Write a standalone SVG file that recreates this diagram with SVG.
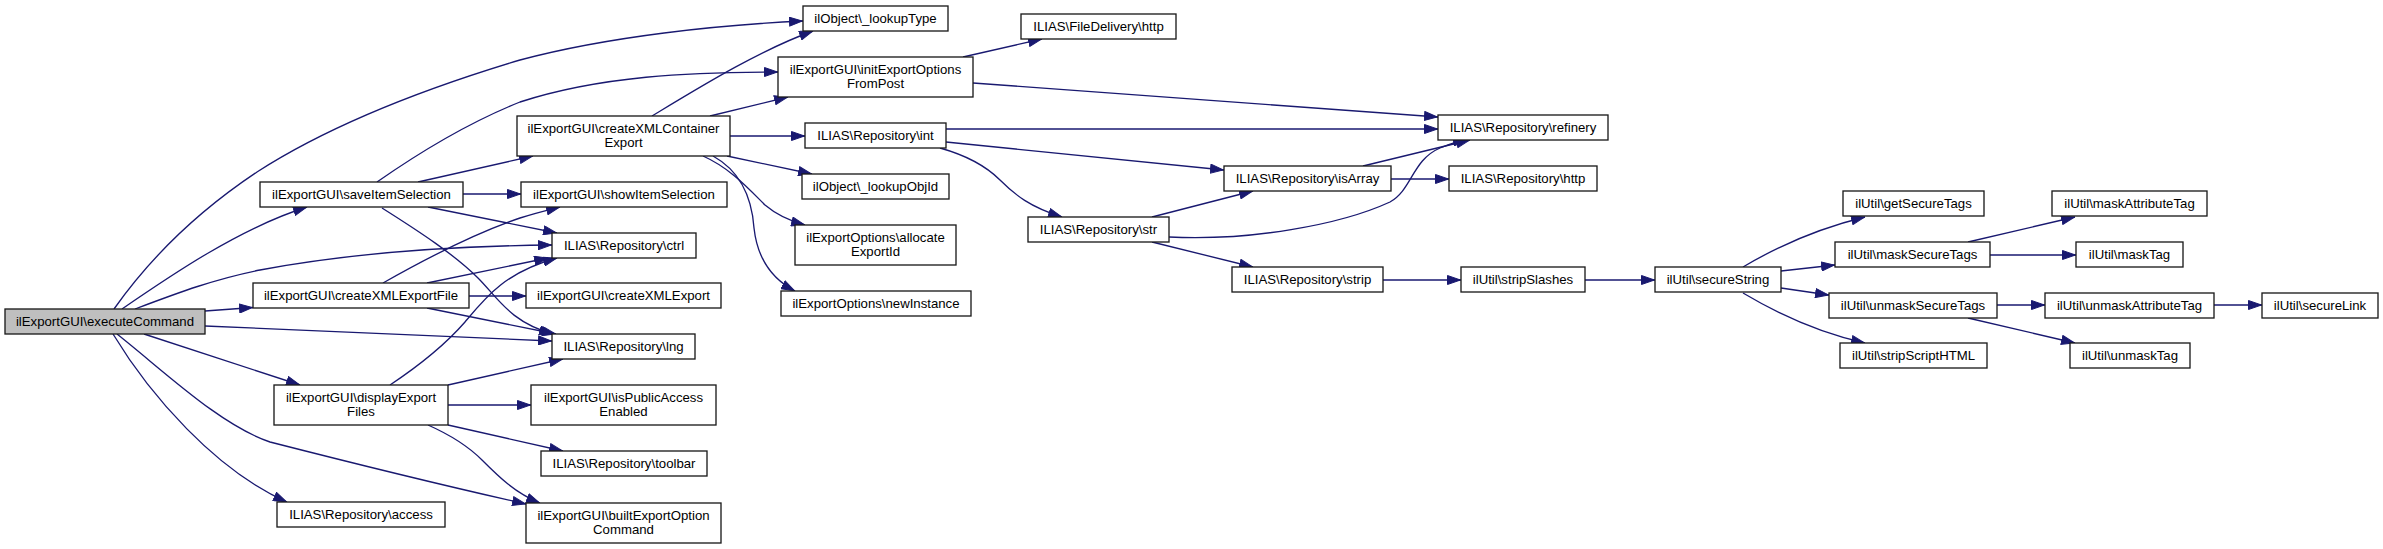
<svg xmlns="http://www.w3.org/2000/svg" width="2383" height="549" viewBox="0 0 2383 549">
<style>
.n rect{fill:#ffffff;stroke:#1a1a1a;stroke-width:1.33}
.root rect{fill:#bfbfbf}
.n text{font-family:"Liberation Sans",Arial,Helvetica,sans-serif;font-size:13.2px;fill:#000000;text-anchor:middle}
.e path{fill:none;stroke:#191970;stroke-width:1.33;marker-end:url(#ah)}
</style>
<defs>
<marker id="ah" viewBox="0 0 14 10" refX="14" refY="5" markerWidth="14" markerHeight="10" markerUnits="userSpaceOnUse" orient="auto">
<path d="M0.5,0.5 L13.5,5 L0.5,9.5 z" fill="#191970" stroke="#191970" stroke-width="1"/>
</marker>
</defs>
<rect width="2383" height="549" fill="#ffffff"/>
<g id="edges" class="e">
<path d="M114,309 C150,258 200,210 257,172 C330,125 430,87 520,60 C610,36 720,25 803,21"/>
<path d="M122,309 C170,276 240,228 307,207"/>
<path d="M135,309 C180,292 215,279 260,270 C340,255 440,246 552,245"/>
<path d="M205,311 L253,307.5"/>
<path d="M205,326 L552,341"/>
<path d="M144,334 L300,385"/>
<path d="M117,334 C165,372 220,425 270,442 C360,465 450,487 526,504"/>
<path d="M113,334 C150,395 215,470 287,502"/>
<path d="M377,182 C420,152 470,122 520,102 C600,76 690,72 778,72"/>
<path d="M418,182 L533,156"/>
<path d="M463,194 L521,194"/>
<path d="M428,207 L557,233"/>
<path d="M382,208 C420,232 455,255 478,278 C498,298 510,322 553,334"/>
<path d="M383,283 C420,262 470,235 520,218 C535,213 548,210 560,207"/>
<path d="M427,283 L548,258"/>
<path d="M390,385 C420,365 445,345 465,322 C485,298 505,272 557,258"/>
<path d="M469,296 L526,296"/>
<path d="M427,308 L556,334"/>
<path d="M448,385 L563,359"/>
<path d="M448,405 L531,405"/>
<path d="M448,425 L563,451"/>
<path d="M428,425 C455,437 470,448 482,460 C498,476 515,493 540,503"/>
<path d="M652,116 C700,87 760,50 813,31"/>
<path d="M710,116 L788,97"/>
<path d="M730,136 L805,136"/>
<path d="M727,156 L812,174"/>
<path d="M703,156 C730,168 748,188 765,205 C778,216 790,221 805,225"/>
<path d="M713,156 C742,172 752,200 754,228 C757,255 770,278 795,291"/>
<path d="M963,57 L1042,39"/>
<path d="M973,83 L1438,117"/>
<path d="M946,129 L1438,129"/>
<path d="M946,142 L1224,170"/>
<path d="M940,148 C965,155 985,165 1000,180 C1015,195 1030,207 1062,217"/>
<path d="M1363,166 L1470,140"/>
<path d="M1391,179 L1449,179"/>
<path d="M1152,217 L1253,191"/>
<path d="M1169,237 C1250,241 1340,225 1390,202 C1412,190 1412,160 1440,148 C1450,144 1458,141 1467,140"/>
<path d="M1152,242 L1253,267"/>
<path d="M1383,280 L1461,280"/>
<path d="M1585,280 L1655,280"/>
<path d="M1743,267 C1780,245 1820,228 1865,217"/>
<path d="M1781,271 L1835,265"/>
<path d="M1781,288 L1829,295"/>
<path d="M1743,293 C1780,315 1820,333 1865,343"/>
<path d="M1968,242 L2075,217"/>
<path d="M1990,255 L2076,255"/>
<path d="M1997,305 L2045,305"/>
<path d="M1968,318 L2075,343"/>
<path d="M2214,305 L2262,305"/>
</g>
<g id="n1" class="n root"><rect x="5" y="309" width="200" height="25"/><text x="105" y="326">ilExportGUI\executeCommand</text></g>
<g id="n2" class="n"><rect x="260" y="182" width="203" height="25"/><text x="361.5" y="199">ilExportGUI\saveItemSelection</text></g>
<g id="n3" class="n"><rect x="253" y="283" width="216" height="25"/><text x="361" y="300">ilExportGUI\createXMLExportFile</text></g>
<g id="n4" class="n"><rect x="274" y="385" width="174" height="40"/><text x="361" y="401.5">ilExportGUI\displayExport</text><text x="361" y="416">Files</text></g>
<g id="n5" class="n"><rect x="277" y="502" width="168" height="25"/><text x="361" y="519">ILIAS\Repository\access</text></g>
<g id="n6" class="n"><rect x="803" y="6" width="145" height="25"/><text x="875.5" y="23">ilObject\_lookupType</text></g>
<g id="n7" class="n"><rect x="778" y="57" width="195" height="40"/><text x="875.5" y="73.5">ilExportGUI\initExportOptions</text><text x="875.5" y="88">FromPost</text></g>
<g id="n8" class="n"><rect x="517" y="116" width="213" height="40"/><text x="623.5" y="132.5">ilExportGUI\createXMLContainer</text><text x="623.5" y="147">Export</text></g>
<g id="n9" class="n"><rect x="521" y="182" width="206" height="25"/><text x="624" y="199">ilExportGUI\showItemSelection</text></g>
<g id="n10" class="n"><rect x="552" y="233" width="144" height="25"/><text x="624" y="250">ILIAS\Repository\ctrl</text></g>
<g id="n11" class="n"><rect x="526" y="283" width="195" height="25"/><text x="623.5" y="300">ilExportGUI\createXMLExport</text></g>
<g id="n12" class="n"><rect x="552" y="334" width="143" height="25"/><text x="623.5" y="351">ILIAS\Repository\lng</text></g>
<g id="n13" class="n"><rect x="531" y="385" width="185" height="40"/><text x="623.5" y="401.5">ilExportGUI\isPublicAccess</text><text x="623.5" y="416">Enabled</text></g>
<g id="n14" class="n"><rect x="541" y="451" width="166" height="25"/><text x="624" y="468">ILIAS\Repository\toolbar</text></g>
<g id="n15" class="n"><rect x="526" y="503" width="195" height="40"/><text x="623.5" y="519.5">ilExportGUI\builtExportOption</text><text x="623.5" y="534">Command</text></g>
<g id="n16" class="n"><rect x="805" y="123" width="141" height="25"/><text x="875.5" y="140">ILIAS\Repository\int</text></g>
<g id="n17" class="n"><rect x="802" y="174" width="147" height="25"/><text x="875.5" y="191">ilObject\_lookupObjId</text></g>
<g id="n18" class="n"><rect x="795" y="225" width="161" height="40"/><text x="875.5" y="241.5">ilExportOptions\allocate</text><text x="875.5" y="256">ExportId</text></g>
<g id="n19" class="n"><rect x="781" y="291" width="190" height="25"/><text x="876" y="308">ilExportOptions\newInstance</text></g>
<g id="n20" class="n"><rect x="1021" y="14" width="155" height="25"/><text x="1098.5" y="31">ILIAS\FileDelivery\http</text></g>
<g id="n21" class="n"><rect x="1438" y="115" width="170" height="25"/><text x="1523" y="132">ILIAS\Repository\refinery</text></g>
<g id="n22" class="n"><rect x="1224" y="166" width="167" height="25"/><text x="1307.5" y="183">ILIAS\Repository\isArray</text></g>
<g id="n23" class="n"><rect x="1449" y="166" width="148" height="25"/><text x="1523" y="183">ILIAS\Repository\http</text></g>
<g id="n24" class="n"><rect x="1028" y="217" width="141" height="25"/><text x="1098.5" y="234">ILIAS\Repository\str</text></g>
<g id="n25" class="n"><rect x="1232" y="267" width="151" height="25"/><text x="1307.5" y="284">ILIAS\Repository\strip</text></g>
<g id="n26" class="n"><rect x="1461" y="267" width="124" height="25"/><text x="1523" y="284">ilUtil\stripSlashes</text></g>
<g id="n27" class="n"><rect x="1655" y="267" width="126" height="25"/><text x="1718" y="284">ilUtil\secureString</text></g>
<g id="n28" class="n"><rect x="1843" y="191" width="141" height="25"/><text x="1913.5" y="208">ilUtil\getSecureTags</text></g>
<g id="n29" class="n"><rect x="1835" y="242" width="155" height="25"/><text x="1912.5" y="259">ilUtil\maskSecureTags</text></g>
<g id="n30" class="n"><rect x="1829" y="293" width="168" height="25"/><text x="1913" y="310">ilUtil\unmaskSecureTags</text></g>
<g id="n31" class="n"><rect x="1840" y="343" width="147" height="25"/><text x="1913.5" y="360">ilUtil\stripScriptHTML</text></g>
<g id="n32" class="n"><rect x="2052" y="191" width="155" height="25"/><text x="2129.5" y="208">ilUtil\maskAttributeTag</text></g>
<g id="n33" class="n"><rect x="2076" y="242" width="107" height="25"/><text x="2129.5" y="259">ilUtil\maskTag</text></g>
<g id="n34" class="n"><rect x="2045" y="293" width="169" height="25"/><text x="2129.5" y="310">ilUtil\unmaskAttributeTag</text></g>
<g id="n35" class="n"><rect x="2262" y="293" width="116" height="25"/><text x="2320" y="310">ilUtil\secureLink</text></g>
<g id="n36" class="n"><rect x="2070" y="343" width="120" height="25"/><text x="2130" y="360">ilUtil\unmaskTag</text></g>
</svg>
